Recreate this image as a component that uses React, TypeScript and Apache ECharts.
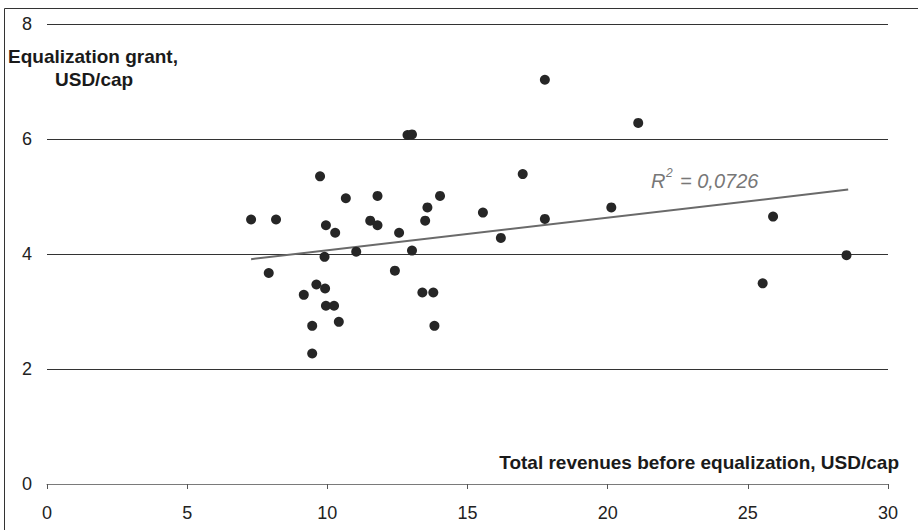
import React, { useEffect, useRef } from "react";
import * as echarts from "echarts";

const revenues = [
  12.86, 13.02, 9.74, 10.66, 11.79, 14.02, 13.57, 7.28, 8.17, 9.95, 11.53, 11.79, 13.49, 10.28,
  12.56, 11.03, 13.02, 9.9, 7.91, 12.41, 9.61, 9.92, 9.16, 9.95, 10.24, 13.39, 13.78, 9.46,
  10.41, 13.82, 9.46, 17.76, 21.09, 16.97, 15.55, 16.19, 17.76, 20.13, 25.9, 25.53, 28.52,
];
const grants = [
  6.07, 6.08, 5.35, 4.97, 5.01, 5.01, 4.81, 4.6, 4.6, 4.5, 4.58, 4.5, 4.58, 4.37,
  4.37, 4.04, 4.06, 3.95, 3.67, 3.71, 3.47, 3.4, 3.29, 3.1, 3.1, 3.33, 3.33, 2.75,
  2.82, 2.75, 2.27, 7.03, 6.28, 5.39, 4.72, 4.28, 4.61, 4.81, 4.65, 3.49, 3.98,
];
const trendX = [7.28, 28.58];
const trendY = [3.91, 5.12];
const xTicks = [0, 5, 10, 15, 20, 25, 30];
const yTicks = [0, 2, 4, 6, 8];
const yTitle = ["Equalization grant,", "USD/cap"];
const xTitle = "Total revenues before equalization, USD/cap";
const r2Label = "0,0726";

const FONT = "'Liberation Sans', Arial, Helvetica, sans-serif";

export default function App() {
  const ref = useRef<HTMLDivElement>(null);
  useEffect(() => {
    if (!ref.current) return;
    const chart = echarts.init(ref.current, undefined, { renderer: "svg" });
    const points = revenues.map((x, i) => [x, grants[i]]);
    const trend = trendX.map((x, i) => [x, trendY[i]]);
    chart.setOption({
      animation: false,
      backgroundColor: "#fff",
      textStyle: { fontFamily: FONT },
      grid: { left: 47, right: 30, top: 24, bottom: 46 },
      xAxis: {
        type: "value",
        min: xTicks[0],
        max: xTicks[xTicks.length - 1],
        interval: 5,
        axisLine: { show: true, lineStyle: { color: "#7a7a7a", width: 1 } },
        axisTick: { show: true, length: 5, lineStyle: { color: "#555" } },
        axisLabel: { fontSize: 18, color: "#222", margin: 20, fontFamily: FONT },
        splitLine: { show: false },
      },
      yAxis: {
        type: "value",
        min: yTicks[0],
        max: yTicks[yTicks.length - 1],
        interval: 2,
        axisLine: { show: false },
        axisTick: { show: false },
        axisLabel: { fontSize: 18, color: "#222", margin: 15, fontFamily: FONT },
        splitLine: {
          show: true,
          lineStyle: { color: ["transparent", "#333", "#333", "#333", "#333"], width: 1 },
        },
      },
      series: [
        {
          type: "line",
          data: trend,
          symbol: "none",
          lineStyle: { color: "#6a6a6a", width: 2 },
          z: 2,
        },
        {
          type: "scatter",
          data: points,
          symbolSize: 10,
          itemStyle: { color: "#262626", opacity: 1 },
          z: 3,
        },
      ],
      graphic: [
        {
          type: "rect",
          shape: { x: 4.5, y: 8.5, width: 1000, height: 1000 },
          style: { fill: "none", stroke: "#333", lineWidth: 1 },
          silent: true,
        },
        {
          type: "text",
          style: {
            x: 8,
            y: 47,
            text: yTitle[0],
            fontSize: 19,
            fontWeight: "bold",
            fontFamily: FONT,
            fill: "#1a1a1a",
          },
        },
        {
          type: "text",
          style: {
            x: 55,
            y: 70,
            text: yTitle[1],
            fontSize: 19,
            fontWeight: "bold",
            fontFamily: FONT,
            fill: "#1a1a1a",
          },
        },
        {
          type: "text",
          style: {
            x: 899,
            y: 453,
            text: xTitle,
            align: "right",
            fontSize: 19,
            fontWeight: "bold",
            fontFamily: FONT,
            fill: "#1a1a1a",
          },
        },
        {
          type: "text",
          style: {
            x: 651,
            y: 171,
            text: "R",
            fontSize: 20,
            fontStyle: "italic",
            fontFamily: FONT,
            fill: "#777",
          },
        },
        {
          type: "text",
          style: {
            x: 666,
            y: 167,
            text: "2",
            fontSize: 12,
            fontStyle: "italic",
            fontFamily: FONT,
            fill: "#777",
          },
        },
        {
          type: "text",
          style: {
            x: 680,
            y: 171,
            text: "= " + r2Label,
            fontSize: 20,
            fontStyle: "italic",
            fontFamily: FONT,
            fill: "#777",
          },
        },
      ],
    });
    return () => chart.dispose();
  }, []);
  return (
    <div
      ref={ref}
      style={{ position: "fixed", left: 0, top: 0, width: 918, height: 530, background: "#fff" }}
    />
  );
}
